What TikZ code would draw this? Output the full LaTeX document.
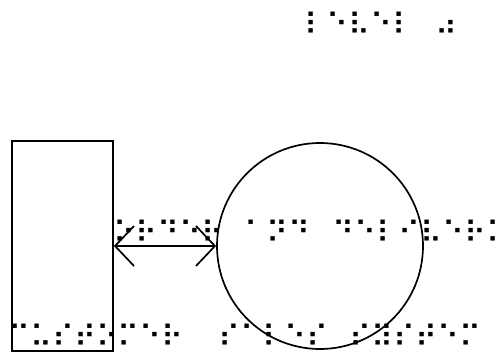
\documentclass[tikz,border=0pt]{standalone}
\usepackage{fontspec}
\newfontfamily\braillefont{DejaVu Sans}
\usetikzlibrary{positioning}
\usetikzlibrary{arrows.meta}

\begin{document}
\begin{tikzpicture}[x=1pt, y=-1pt,
    brl/.style={font=\braillefont\fontsize{30}{30}\selectfont, inner sep=0pt, anchor=west},
    thick line/.style={line width=1.7pt}]
  % page size of the reference
  \useasboundingbox (0,0) rectangle (499,354);

  % the two parts of the context diagram
  \node[draw, thick line, minimum width=101pt, minimum height=210pt, inner sep=0pt] (customer) at (62.5,246) {};
  \node[draw, circle, thick line, minimum size=206pt, inner sep=0pt] (system) at (320,246) {};

  % data flow between them
  \draw[thick line, {Straight Barb[length=19pt, width=40pt]}-{Straight Barb[length=19pt, width=40pt]}] (customer.east) -- (system.west);

  % braille labels
  \node[brl] (title) at (304,23.3) {⠇⠑⠧⠑⠇⠀⠴};
  \node[brl] (flow) at (113,231.7) {⠕⠗⠙⠑⠗⠀⠁⠝⠙⠀⠙⠑⠇⠊⠧⠑⠗⠽};
  \node[brl] (custname) at (8,335.7) {⠉⠥⠎⠞⠕⠍⠑⠗};
  \node[brl] (sysname) at (218,335.7) {⠎⠁⠇⠑⠎⠀⠎⠽⠎⠞⠑⠍};
\end{tikzpicture}
\end{document}
